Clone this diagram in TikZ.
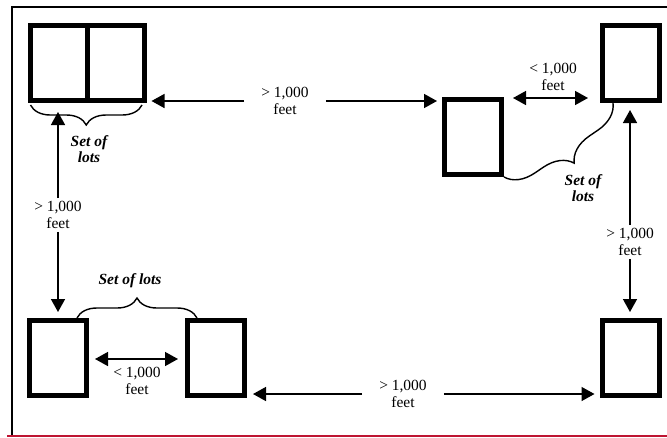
\documentclass[tikz,border=0pt]{standalone}
\usepackage{fontspec}
\setmainfont{Liberation Serif}
\usetikzlibrary{arrows.meta,decorations.pathreplacing}
\definecolor{rulered}{RGB}{190,20,50}
\tikzset{
  lot/.style={draw, line width=5pt, minimum width=57pt, minimum height=75pt, inner sep=0pt},
  dist/.style={align=center, font=\fontsize{15.5}{17}\selectfont, inner xsep=17pt, inner ysep=3pt},
  arr/.style={line width=1.5pt, -{Triangle[length=13pt,width=14pt]}},
  dbl/.style={line width=1.5pt, {Triangle[length=13pt,width=14pt]}-{Triangle[length=13pt,width=14pt]}},
  setlabel/.style={align=center, font=\fontsize{15.5}{16}\selectfont\bfseries\itshape},
  lotbrace/.style={line width=1.4pt, decorate, decoration={brace, amplitude=#1}},
  lotbrace/.default=20pt,
}
\begin{document}
\begin{tikzpicture}[x=1pt,y=-1pt]
\useasboundingbox (0,0) rectangle (667,437);
% Frame
\draw[line width=1.5pt] (12,437) -- (12,7) -- (667,7);
\draw[rulered, line width=1.5pt] (7,436) -- (667,436);
% Lots
\foreach \n/\x/\y in {NWa/58.5/63, NWb/115.5/63, Mid/473/137, NE/631/63, SW/58/358, S/216/358, SE/630.5/358}
  \node[lot] (lot\n) at (\x,\y) {};
% Distances
\node[dist] (far1) at (285,101) {> 1,000\\feet};
\node[dist] (far2) at (58,215) {> 1,000\\feet};
\node[dist] (far3) at (630,242) {> 1,000\\feet};
\node[dist] (far4) at (403,394) {> 1,000\\feet};
\node[dist] (near1) at (553,77) {< 1,000\\feet};
\node[dist] (near2) at (137,381) {< 1,000\\feet};
\draw[arr, shorten >=5pt] (far1.west) -- (far1.west -| lotNWb.east);
\draw[arr, shorten >=5pt] (far1.east) -- (far1.east -| lotMid.west);
\draw[arr, shorten >=9pt] (far2.north) -- (far2.north |- lotNWa.south);
\draw[arr, shorten >=6pt] (far2.south) -- (far2.south |- lotSW.north);
\draw[arr, shorten >=7pt] (far3.north) -- (far3.north |- lotNE.south);
\draw[arr, shorten >=6pt] (far3.south) -- (far3.south |- lotSE.north);
\draw[arr, shorten >=6pt] (far4.west) -- (far4.west -| lotS.east);
\draw[arr, shorten >=5pt] (far4.east) -- (far4.east -| lotSE.west);
\draw[dbl, shorten <=9pt, shorten >=12pt] (lotMid.east |- 0,98) -- (lotNE.west |- 0,98);
\draw[dbl, shorten <=6pt, shorten >=7pt] (lotSW.east |- 0,359) -- (lotS.west |- 0,359);
% Sets of lots
\draw[lotbrace] ([xshift=-4.5pt,yshift=-2pt]lotNWb.south east) -- ([xshift=3pt,yshift=-2pt]lotNWa.south west);
\node[setlabel] (set1) at (89,149) {Set of\\lots};
\draw[lotbrace] ([xshift=-12pt]lotSW.north east) -- ([xshift=12pt]lotS.north west);
\node[setlabel] (set2) at (130,281) {Set of lots};
\draw[lotbrace=28pt] ([xshift=-18pt]lotNE.south) -- (lotMid.south east);
\node[setlabel] (set3) at (583,188) {Set of\\lots};
\end{tikzpicture}
\end{document}
